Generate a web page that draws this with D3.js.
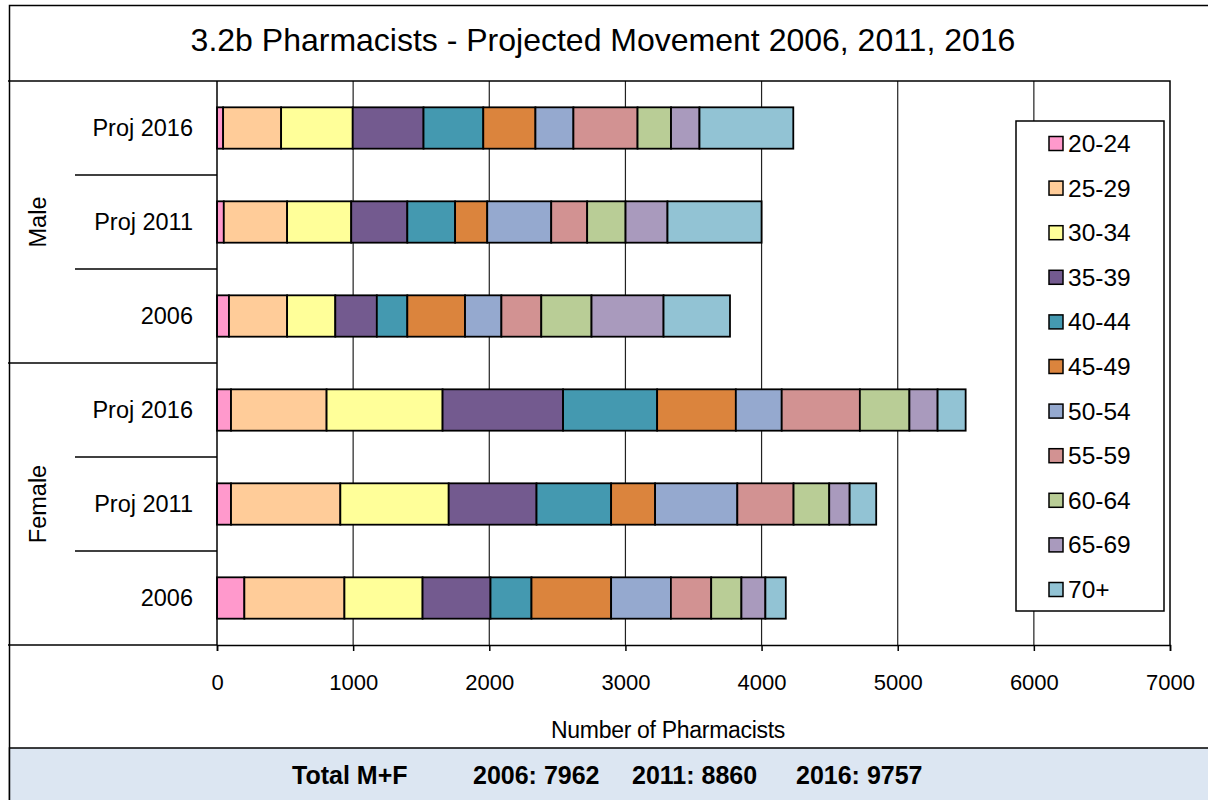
<!DOCTYPE html>
<html>
<head>
<meta charset="utf-8">
<script src="https://cdn.jsdelivr.net/npm/d3@7"></script>
<style>
  body { margin: 0; background: #fff; }
  svg text { font-family: "Liberation Sans", Arial, sans-serif; fill: #000; }
</style>
</head>
<body>
<div id="chart"></div>
<script>
// age bands (stack order, left to right)
var ageGroups = ["20-24", "25-29", "30-34", "35-39", "40-44", "45-49", "50-54", "55-59", "60-64", "65-69", "70+"];
var ageColors = ["#ff99cc", "#ffcc99", "#ffff99", "#735a8f", "#4499b0", "#db843d", "#95a9cf", "#d29292", "#b9cd96", "#a99abd", "#92c3d4"];

// rows, top to bottom
var rowGroups = ["Male", "Male", "Male", "Female", "Female", "Female"];
var rowLabels = ["Proj 2016", "Proj 2011", "2006", "Proj 2016", "Proj 2011", "2006"];

// number of pharmacists per age band
var maleProj2016   = [45, 426, 526, 520, 439, 383, 279, 471, 246, 209, 689];
var maleProj2011   = [50, 465, 471, 412, 351, 236, 470, 264, 282, 308, 691];
var male2006       = [88, 427, 354, 305, 224, 424, 267, 293, 369, 529, 488];
var femaleProj2016 = [103, 702, 852, 885, 691, 578, 337, 574, 364, 207, 206];
var femaleProj2011 = [103, 803, 796, 645, 548, 323, 604, 413, 262, 150, 195];
var female2006     = [201, 735, 574, 499, 301, 585, 439, 296, 222, 176, 150];

var xTicks = [0, 1000, 2000, 3000, 4000, 5000, 6000, 7000];
var totals = ["2006: 7962", "2011: 8860", "2016: 9757"];

var rowValues = [maleProj2016, maleProj2011, male2006, femaleProj2016, femaleProj2011, female2006];

var width = 1208, height = 800;
var plot = { left: 217, right: 1170, top: 81, bottom: 645 };

var svg = d3.select("#chart").append("svg")
    .attr("width", width)
    .attr("height", height);

// outer frame
svg.append("rect")
    .attr("x", 9.5).attr("y", 5.5)
    .attr("width", 1220).attr("height", 820)
    .attr("fill", "#fff").attr("stroke", "#000").attr("stroke-width", 1.5);

// title
svg.append("text")
    .attr("x", 603).attr("y", 40)
    .attr("text-anchor", "middle")
    .attr("dominant-baseline", "central")
    .style("font-size", "32px")
    .text("3.2b Pharmacists - Projected Movement 2006, 2011, 2016");

var x = d3.scaleLinear().domain([0, 7000]).range([plot.left, plot.right]);
var rowKeys = d3.range(rowLabels.length);
var y = d3.scaleBand().domain(rowKeys).range([plot.top, plot.bottom])
    .paddingInner(0.56).paddingOuter(0.28);
var color = d3.scaleOrdinal().domain(ageGroups).range(ageColors);

// gridlines
svg.append("g")
    .selectAll("line")
    .data(xTicks.slice(1, -1))
    .enter().append("line")
    .attr("x1", function (d) { return x(d); })
    .attr("x2", function (d) { return x(d); })
    .attr("y1", plot.top).attr("y2", plot.bottom)
    .attr("stroke", "#222").attr("stroke-width", 1.2);

// plot border top/right
svg.append("path")
    .attr("d", "M" + plot.left + "," + plot.top + "H" + plot.right + "V" + plot.bottom)
    .attr("fill", "none").attr("stroke", "#000").attr("stroke-width", 1.5);

// stacked bars
var stackData = rowKeys.map(function (i) {
  var o = { row: i };
  ageGroups.forEach(function (a, j) { o[a] = rowValues[i][j]; });
  return o;
});
var series = d3.stack().keys(ageGroups)(stackData);

svg.append("g")
    .selectAll("g")
    .data(series)
    .enter().append("g")
    .attr("fill", function (d) { return color(d.key); })
    .selectAll("rect")
    .data(function (d) { return d; })
    .enter().append("rect")
    .attr("x", function (d) { return x(d[0]); })
    .attr("width", function (d) { return x(d[1]) - x(d[0]); })
    .attr("y", function (d) { return y(d.data.row); })
    .attr("height", y.bandwidth())
    .attr("stroke", "#000")
    .attr("stroke-width", 1.8);

// x axis
var xAxis = svg.append("g")
    .attr("transform", "translate(0," + plot.bottom + ")")
    .call(d3.axisBottom(x).tickValues(xTicks).tickFormat(d3.format("d")).tickSize(6).tickPadding(23));
xAxis.select(".domain").attr("stroke", "#000").attr("stroke-width", 1.5);
xAxis.selectAll(".tick line").attr("stroke", "#000").attr("stroke-width", 1.5);
xAxis.selectAll(".tick text")
    .style("font-size", "22px")
    .style("font-family", "Liberation Sans, Arial, sans-serif")
    .attr("fill", "#000");

svg.append("text")
    .attr("x", 668).attr("y", 730)
    .attr("text-anchor", "middle")
    .attr("dominant-baseline", "central")
    .style("font-size", "23px")
    .style("letter-spacing", "-0.3px")
    .text("Number of Pharmacists");

// category axis (two levels)
svg.append("line")
    .attr("x1", plot.left).attr("x2", plot.left)
    .attr("y1", plot.top).attr("y2", plot.bottom)
    .attr("stroke", "#000").attr("stroke-width", 1.5);

var groupBreaks = [0, 3, 6];
svg.append("g")
    .selectAll("line")
    .data(groupBreaks)
    .enter().append("line")
    .attr("x1", 8).attr("x2", plot.left)
    .attr("y1", function (d) { return d === 6 ? plot.bottom : y(d) - y.step() * y.paddingInner() / 2; })
    .attr("y2", function (d) { return d === 6 ? plot.bottom : y(d) - y.step() * y.paddingInner() / 2; })
    .attr("stroke", "#000").attr("stroke-width", 1.5);

svg.append("g")
    .selectAll("line")
    .data([1, 2, 4, 5])
    .enter().append("line")
    .attr("x1", 75).attr("x2", plot.left)
    .attr("y1", function (d) { return y(d) - y.step() * y.paddingInner() / 2; })
    .attr("y2", function (d) { return y(d) - y.step() * y.paddingInner() / 2; })
    .attr("stroke", "#000").attr("stroke-width", 1.5);

svg.append("g")
    .selectAll("text")
    .data(rowKeys)
    .enter().append("text")
    .attr("x", 193)
    .attr("y", function (d) { return y(d) + y.bandwidth() / 2; })
    .attr("text-anchor", "end")
    .attr("dominant-baseline", "central")
    .style("font-size", "23.5px")
    .text(function (d) { return rowLabels[d]; });

var groups = ["Male", "Female"];
svg.append("g")
    .selectAll("text")
    .data(groups)
    .enter().append("text")
    .attr("transform", function (g) {
      var idx = rowKeys.filter(function (i) { return rowGroups[i] === g; });
      var cy = (y(idx[0]) + y(idx[idx.length - 1]) + y.bandwidth()) / 2;
      return "translate(38," + cy + ") rotate(-90)";
    })
    .attr("text-anchor", "middle")
    .attr("dominant-baseline", "central")
    .style("font-size", "23.5px")
    .text(function (d) { return d; });

// legend
var legend = svg.append("g");
legend.append("rect")
    .attr("x", 1016).attr("y", 121)
    .attr("width", 148).attr("height", 490)
    .attr("fill", "#fff").attr("stroke", "#000").attr("stroke-width", 1.5);
var ly = d3.scalePoint().domain(ageGroups).range([143.5, 589.5]);
var items = legend.selectAll(".item")
    .data(ageGroups)
    .enter().append("g")
    .attr("transform", function (d) { return "translate(1049," + ly(d) + ")"; });
items.append("rect")
    .attr("x", 0).attr("y", -7)
    .attr("width", 14).attr("height", 14)
    .attr("fill", function (d) { return color(d); })
    .attr("stroke", "#000").attr("stroke-width", 1.5);
items.append("text")
    .attr("x", 19).attr("y", 0)
    .attr("dominant-baseline", "central")
    .style("font-size", "24.5px")
    .text(function (d) { return d; });

// footer
svg.append("rect")
    .attr("x", 9.5).attr("y", 748)
    .attr("width", 1220).attr("height", 80)
    .attr("fill", "#dce6f2").attr("stroke", "#000").attr("stroke-width", 1.5);
var footerX = [292, 473, 632, 796];
svg.append("g")
    .selectAll("text")
    .data(["Total M+F"].concat(totals))
    .enter().append("text")
    .attr("x", function (d, i) { return footerX[i]; })
    .attr("y", 775)
    .attr("dominant-baseline", "central")
    .style("font-size", "25px")
    .style("font-weight", "bold")
    .text(function (d) { return d; });
</script>
</body>
</html>
